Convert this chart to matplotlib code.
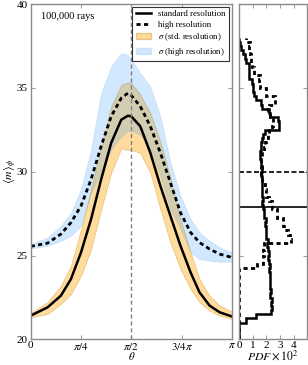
import matplotlib
matplotlib.use('Agg')
import matplotlib.pyplot as plt
from matplotlib.lines import Line2D
from matplotlib.patches import Patch
import numpy as np

plt.rcParams['font.family'] = 'serif'
plt.rcParams['font.serif'] = ['Liberation Serif', 'DejaVu Serif']
plt.rcParams['mathtext.fontset'] = 'stix'

# angle samples (degrees)
theta_deg = [0, 15, 27, 36, 45, 54, 63, 72, 81, 87, 90, 98, 107, 116, 125, 134, 143, 151, 160, 169, 180]

# standard resolution: mean and sigma band
std_mean = [21.42, 21.91, 22.61, 23.6, 25.19, 27.17, 29.54, 31.72, 33.1, 33.34, 33.3,
            32.71, 31.13, 29.15, 27.36, 25.58, 24.0, 22.81, 22.02, 21.62, 21.37]
std_lo = [21.33, 21.52, 22.12, 22.71, 23.8, 25.39, 27.76, 29.94, 31.4, 31.3, 31.3,
          31.13, 29.94, 27.76, 25.78, 24.2, 23.01, 22.22, 21.72, 21.42, 21.22]
std_hi = [21.58, 22.22, 23.2, 24.39, 26.57, 28.95, 31.52, 33.9, 35.18, 35.32, 35.28,
          34.6, 33.5, 31.8, 29.6, 27.17, 25.19, 23.6, 22.61, 22.02, 21.66]

# high resolution: mean and sigma band
hi_mean = [25.55, 25.74, 26.28, 26.97, 27.96, 29.54, 31.52, 33.3, 34.39, 34.69, 34.55,
           33.9, 32.71, 31.13, 29.34, 27.56, 26.38, 25.78, 25.39, 25.09, 24.89]
hi_lo = [25.43, 25.58, 25.88, 26.18, 26.77, 28.75, 29.94, 31.32, 32.11, 32.41, 32.41,
         32.21, 31.32, 29.74, 27.76, 26.57, 25.19, 24.79, 24.7, 24.64, 24.64]
hi_hi = [25.68, 26.08, 26.77, 27.56, 28.95, 31.32, 34.69, 36.27, 37.07, 36.97, 36.67,
         35.88, 35.08, 33.3, 30.53, 28.55, 27.17, 26.38, 25.88, 25.49, 25.19]

# PDF histograms (x 10^2), bins of 0.25 from 20 to 38
pdf_edges = np.arange(20.0, 38.01, 0.25)
std_pdf = [0, 0, 0, 0, 0.5, 1.25,
           2.35, 2.4, 2.35, 2.4,
           2.3, 2.35, 2.3, 2.3,
           2.25, 2.3, 2.2, 2.25,
           2.2, 2.15, 2.2, 2.1,
           2.05, 2.1, 2.0, 2.0,
           1.95, 1.9, 1.95, 1.85,
           1.8, 1.75, 1.7, 1.75,
           1.7, 1.65, 1.7, 1.65,
           1.65, 1.6, 1.65, 1.6,
           1.6, 1.55, 1.5, 1.6,
           1.6, 1.7, 1.75, 1.9,
           2.9, 2.9, 2.85, 2.3,
           2.2, 1.7, 1.6, 1.2,
           1.1, 1.0, 1.0, 0.9,
           0.75, 0.75, 0.7, 0.7,
           0.5, 0.45, 0.3, 0.1,
           0.05, 0.0]
hi_pdf = [0] * 17 + [1.3,
          1.75, 1.75, 1.8, 1.75,
          1.8, 3.85, 3.75, 3.6,
          3.3, 3.25, 3.2, 2.8,
          2.75, 2.4, 2.4, 2.2,
          2.0, 2.0, 1.9, 1.7,
          1.65, 1.6, 1.6, 1.65,
          1.6, 1.65, 1.7, 1.8,
          1.9, 2.0, 2.1, 2.2,
          2.4, 2.5, 2.5, 2.3,
          2.1, 2.2, 2.6, 2.65,
          2.0, 1.95, 1.5, 1.45,
          1.5, 1.1, 1.05, 0.9,
          0.85, 0.85, 0.8, 0.75,
          0.8, 0.5]
std_avg = 27.9
hi_avg = 30.0

theta = np.deg2rad(theta_deg)
dash = (0, (1.5, 1.2))
spine_col = '#8a8a8a'

fig = plt.figure(figsize=(3.08, 3.65), dpi=100)
ax = fig.add_axes([0.0997, 0.07, 0.6533, 0.919])
ax2 = fig.add_axes([0.777, 0.07, 0.22, 0.919])

ax.fill_between(theta, std_lo, std_hi, facecolor='orange', alpha=0.38,
                edgecolor='#c88a00', lw=0.6)
ax.fill_between(theta, hi_lo, hi_hi, facecolor='dodgerblue', alpha=0.2,
                edgecolor='#5a9ad8', lw=0.6)
ax.plot(theta, std_mean, 'k-', lw=1.8)
ax.plot(theta, hi_mean, color='k', ls=dash, lw=2)
ax.axvline(np.pi / 2, color='#808080', ls=(0, (3, 2)), lw=1)

ax.set_xlim(0, np.pi)
ax.set_ylim(20, 40)
ax.set_xticks([0, np.pi / 4, np.pi / 2, 3 * np.pi / 4, np.pi])
ax.set_xticklabels(['0', r'$\pi/4$', r'$\pi/2$', r'$3/4\pi$', r'$\pi$'])
ax.set_yticks([20, 25, 30, 35, 40])
ax.set_xlabel(r'$\theta$', fontsize=8, labelpad=-1)
ax.set_ylabel(r'$\langle m\rangle_\phi$', fontsize=8.5, labelpad=-1)
ax.text(0.05, 0.975, '100,000 rays', transform=ax.transAxes, fontsize=7.5,
        va='top', ha='left')

handles = [Line2D([], [], color='k', lw=1.8),
           Line2D([], [], color='k', ls=dash, lw=2),
           Patch(facecolor='orange', alpha=0.38, edgecolor='#c88a00'),
           Patch(facecolor='dodgerblue', alpha=0.2, edgecolor='#5a9ad8')]
labels = ['standard resolution', 'high resolution',
          r'$\sigma$ (std. resolution)', r'$\sigma$ (high resolution)']
leg = ax.legend(handles, labels, loc='upper right', fontsize=6.3, fancybox=False,
                framealpha=1, edgecolor='#333333', borderaxespad=0.3,
                handlelength=1.8, handletextpad=0.8, borderpad=0.4, labelspacing=0.3)
leg.get_frame().set_linewidth(0.8)

ax2.stairs(std_pdf, pdf_edges, orientation='horizontal', baseline=None,
           color='k', lw=1.8)
ax2.stairs(hi_pdf, pdf_edges, orientation='horizontal', baseline=None,
           color='k', ls=dash, lw=2)
ax2.axhline(std_avg, color='k', lw=1.2)
ax2.axhline(hi_avg, color='k', ls=(0, (3, 1.5)), lw=1.2)
ax2.set_xlim(0, 5)
ax2.set_ylim(20, 40)
ax2.set_xticks([0, 1, 2, 3, 4])
ax2.set_yticks([20, 25, 30, 35, 40])
ax2.set_yticklabels([])
ax2.set_xlabel(r'$PDF\times10^2$', fontsize=8.5, labelpad=-1)

for a in (ax, ax2):
    a.tick_params(direction='in', top=True, right=True, labelsize=8,
                  length=3, width=0.6, color=spine_col, pad=2)
    for s in a.spines.values():
        s.set_color(spine_col)
        s.set_linewidth(1)
ax.tick_params(axis='x', pad=1)
ax2.tick_params(axis='x', pad=1)

fig.savefig('out.png', dpi=100)
